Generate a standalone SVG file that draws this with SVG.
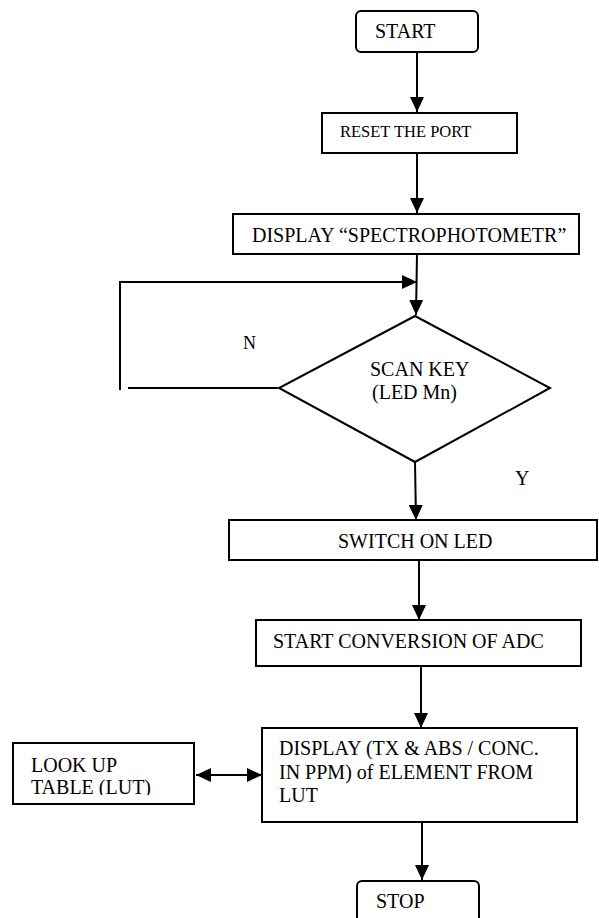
<svg xmlns="http://www.w3.org/2000/svg" width="599" height="918" viewBox="0 0 599 918">
  <defs>
    <style>
      .box { fill: #ffffff; stroke: #000000; stroke-width: 2; }
      .wire { fill: none; stroke: #000000; stroke-width: 2; }
      .lbl { font-family: "Liberation Serif", "Times New Roman", serif; font-size: 20px; fill: #000000; }
      .sm { font-size: 16.5px; }
    </style>
    <marker id="head" viewBox="0 0 15 14" refX="15" refY="7" markerWidth="15" markerHeight="14" markerUnits="userSpaceOnUse" orient="auto-start-reverse">
      <path d="M0,0 L15,7 L0,14 Z" fill="#000000"/>
    </marker>
    <clipPath id="lutClip">
      <rect x="14" y="744" width="179" height="51"/>
    </clipPath>
  </defs>
  <rect width="599" height="918" fill="#ffffff"/>

  <g id="connectors">
    <line class="wire" x1="417" y1="52" x2="417" y2="112" marker-end="url(#head)"/>
    <line class="wire" x1="417" y1="153" x2="417" y2="213" marker-end="url(#head)"/>
    <line class="wire" x1="417" y1="254" x2="416" y2="315" marker-end="url(#head)"/>
    <polyline class="wire" points="120,390 120,282 417,282" marker-end="url(#head)"/>
    <line class="wire" x1="278" y1="388" x2="128" y2="388"/>
    <line class="wire" x1="415" y1="462" x2="416" y2="520" marker-end="url(#head)"/>
    <line class="wire" x1="419" y1="560" x2="419" y2="620" marker-end="url(#head)"/>
    <line class="wire" x1="421" y1="666" x2="421" y2="728" marker-end="url(#head)"/>
    <line class="wire" x1="422" y1="822" x2="422" y2="880" marker-end="url(#head)"/>
    <line class="wire" x1="196" y1="775" x2="262" y2="775" marker-start="url(#head)" marker-end="url(#head)"/>
  </g>

  <g id="start">
    <rect class="box" x="356" y="11" width="122" height="41" rx="5"/>
    <text class="lbl" x="375" y="38">START</text>
  </g>

  <g id="reset">
    <rect class="box" x="322" y="113" width="195" height="40"/>
    <text class="lbl sm" x="340" y="137">RESET THE PORT</text>
  </g>

  <g id="display-title">
    <rect class="box" x="233" y="214" width="346" height="40"/>
    <text class="lbl" x="252" y="242">DISPLAY “SPECTROPHOTOMETR”</text>
  </g>

  <g id="scan-key">
    <polygon class="box" points="415,316 550,388 415,462 279,388"/>
    <text class="lbl" x="370" y="376">SCAN KEY</text>
    <text class="lbl" x="372" y="399">(LED Mn)</text>
  </g>

  <g id="branch-labels">
    <text class="lbl" x="243" y="349" style="font-size:18px">N</text>
    <text class="lbl" x="515" y="485">Y</text>
  </g>

  <g id="switch-led">
    <rect class="box" x="229" y="520" width="368" height="40"/>
    <text class="lbl" x="338" y="548">SWITCH ON LED</text>
  </g>

  <g id="adc">
    <rect class="box" x="256" y="620" width="325" height="46"/>
    <text class="lbl" x="273" y="648">START CONVERSION OF ADC</text>
  </g>

  <g id="display-result">
    <rect class="box" x="262" y="728" width="315" height="94"/>
    <text class="lbl" x="279" y="755">DISPLAY (TX &amp; ABS / CONC.</text>
    <text class="lbl" x="279" y="779">IN PPM) of ELEMENT FROM</text>
    <text class="lbl" x="279" y="802">LUT</text>
  </g>

  <g id="lut">
    <rect class="box" x="13" y="743" width="181" height="61"/>
    <g clip-path="url(#lutClip)">
      <text class="lbl" x="31" y="772">LOOK UP</text>
      <text class="lbl" x="31" y="794">TABLE (LUT)</text>
    </g>
  </g>

  <g id="stop">
    <rect class="box" x="357" y="881" width="122" height="48" rx="5"/>
    <text class="lbl" x="376" y="908">STOP</text>
  </g>
</svg>
